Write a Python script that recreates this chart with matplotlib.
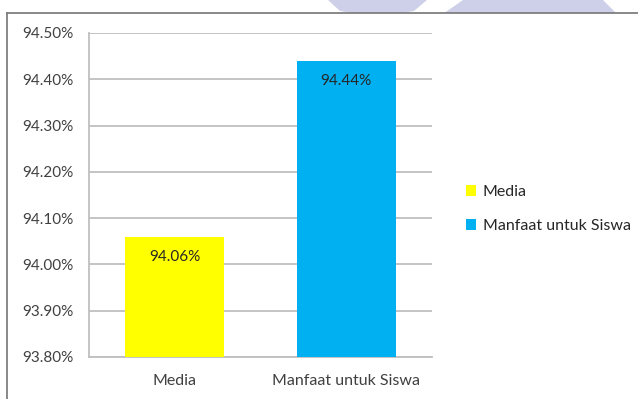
import matplotlib
matplotlib.use("Agg")
import matplotlib.pyplot as plt
from matplotlib.patches import Polygon, Rectangle, Patch
from matplotlib.lines import Line2D
from matplotlib.ticker import FuncFormatter
import numpy as np

plt.rcParams['font.family'] = ['Lato', 'DejaVu Sans']

categories = ["Media", "Manfaat untuk Siswa"]
values = [94.06, 94.44]
colors = ["#FFFF00", "#00B0F0"]
y_ticks = [93.80, 93.90, 94.00, 94.10, 94.20, 94.30, 94.40, 94.50]

W, H = 638, 399
fig = plt.figure(figsize=(W / 100, H / 100), dpi=100)
fig.patch.set_facecolor("white")


def fx(px):
    return px / W


def fy(py):
    return 1 - py / H


# faint decorative shapes peeking above the chart frame
wm = "#CDD0E8"
shape_a = [(328, 0), (427, 0), (414, 11), (396, 14), (358, 14), (340, 11)]
shape_b = [(443, 14), (463, 0), (603, 0), (617, 14)]
for pts in (shape_a, shape_b):
    fig.patches.append(Polygon([(fx(x), fy(y)) for x, y in pts], closed=True,
                               transform=fig.transFigure, facecolor=wm, edgecolor="none", zorder=0))
# white chart area with grey frame
fig.patches.append(Rectangle((fx(7), -0.1), 1.2, fy(13) + 0.1, transform=fig.transFigure,
                             facecolor="white", edgecolor="none", zorder=1))
fig.lines.append(Line2D([fx(7), 1.0], [fy(13), fy(13)], transform=fig.transFigure,
                        color="#7F7F7F", linewidth=1.3, zorder=2))
fig.lines.append(Line2D([fx(7), fx(7)], [fy(13), 0.0], transform=fig.transFigure,
                        color="#7F7F7F", linewidth=1.3, zorder=2))

ax = fig.add_axes([fx(89), fy(357), (432 - 89) / W, (357 - 33) / H])
ax.set_facecolor("none")
ax.set_zorder(3)

x = np.arange(len(categories))
ax.bar(x, [v - y_ticks[0] for v in values], bottom=y_ticks[0], width=0.58,
       color=colors, zorder=3)

for xi, v in zip(x, values):
    ax.text(xi, v - 0.044, f"{v:.2f}%", ha="center", va="center", fontsize=11,
            color="#262626", zorder=4)

ax.set_xlim(-0.5, len(categories) - 0.5)
ax.set_ylim(y_ticks[0], y_ticks[-1])
ax.set_yticks(y_ticks)
ax.yaxis.set_major_formatter(FuncFormatter(lambda v, p: f"{v:.2f}%"))
ax.set_xticks(x)
ax.set_xticklabels(categories, fontsize=11.5)
ax.tick_params(axis="y", length=0, pad=11.5, labelsize=11, labelcolor="#404040")
ax.tick_params(axis="x", length=0, pad=12, labelcolor="#404040")
ax.grid(axis="y", color="#BFBFBF", linewidth=1.3, zorder=0)
for s in ["top", "right"]:
    ax.spines[s].set_visible(False)
for s in ["left", "bottom"]:
    ax.spines[s].set_color("#BFBFBF")
    ax.spines[s].set_linewidth(1.3)

handles = [Patch(facecolor=c, edgecolor="none", label=l) for c, l in zip(colors, categories)]
fig.legend(handles=handles, loc="center left", bbox_to_anchor=(fx(452), fy(209)),
           frameon=False, fontsize=11.5, handlelength=0.63, handleheight=0.63,
           handletextpad=0.4, labelspacing=1.25, labelcolor="#262626")

fig.savefig("out.png", dpi=100, facecolor="white")
